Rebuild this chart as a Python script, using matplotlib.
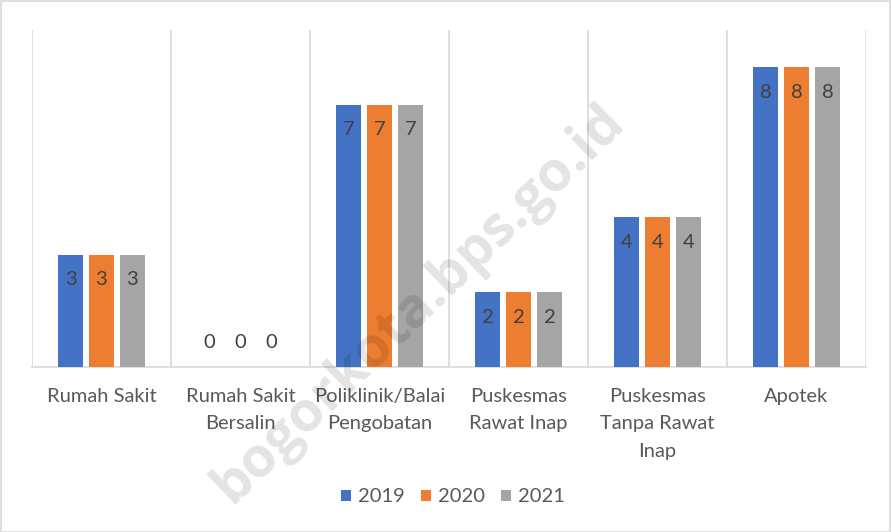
import matplotlib
matplotlib.use("Agg")
import matplotlib.pyplot as plt
import numpy as np
from matplotlib.patches import Rectangle

categories = ["Rumah Sakit", "Rumah Sakit\nBersalin", "Poliklinik/Balai\nPengobatan",
              "Puskesmas\nRawat Inap", "Puskesmas\nTanpa Rawat\nInap", "Apotek"]
series_names = ["2019", "2020", "2021"]
v2019 = [3, 0, 7, 2, 4, 8]
v2020 = [3, 0, 7, 2, 4, 8]
v2021 = [3, 0, 7, 2, 4, 8]
values = [v2019, v2020, v2021]
colors = ["#4472C4", "#ED7D31", "#A5A5A5"]

plt.rcParams['font.family'] = ['Lato', 'DejaVu Sans']

W, H = 891, 532
fig = plt.figure(figsize=(W / 100, H / 100), dpi=100)
fig.patch.set_facecolor("white")
fig.patches.append(Rectangle((0.5 / W, 0.5 / H), 1 - 1.5 / W, 1 - 1.5 / H,
                             transform=fig.transFigure, fill=False,
                             edgecolor="#D9D9D9", linewidth=1.2))

ax = fig.add_axes([32 / W, (H - 367) / H, (866 - 32) / W, (367 - 30) / H])
ax.set_facecolor("none")

n = len(categories)
x = np.arange(n)
bw = 0.173
step = 0.223
for i, (vals, c, name) in enumerate(zip(values, colors, series_names)):
    xs = x + (i - 1) * step
    ax.bar(xs, vals, width=bw, color=c, label=name, zorder=3)
    for xi, v in zip(xs, vals):
        off = -25 if v > 0 else 24
        ax.annotate(str(v), (xi, v), xytext=(0, off), textcoords="offset pixels",
                    ha="center", va="center", fontsize=14.5, color="#404040", zorder=4)

ax.set_xlim(-0.5, n - 0.5)
ax.set_ylim(0, 9)
for b in np.arange(-0.5, n, 1.0):
    ax.axvline(b, color="#D9D9D9", linewidth=1.2, zorder=1)
for s in ["top", "left", "right"]:
    ax.spines[s].set_visible(False)
ax.spines["bottom"].set_color("#D9D9D9")
ax.spines["bottom"].set_linewidth(1.2)
ax.set_yticks([])
ax.set_xticks(x)
ax.set_xticklabels(categories, fontsize=14.5, color="#595959", linespacing=1.75)
ax.tick_params(axis="x", length=0, pad=15)

fig.legend(loc="center", bbox_to_anchor=(453 / W, (H - 497) / H), ncol=3,
           frameon=False, fontsize=14.5, handlelength=0.5, handleheight=0.5,
           handletextpad=0.35, columnspacing=0.8, labelcolor="#595959")

# watermark (semi-transparent overlay)
fig.text(0.47, 0.43, "bogorkota.bps.go.id", fontsize=40, fontweight="bold",
         family=["Open Sans", "DejaVu Sans"], color="black", alpha=0.11,
         rotation=44, ha="center", va="center", zorder=10)

fig.savefig("out.png", dpi=100, facecolor="white")
